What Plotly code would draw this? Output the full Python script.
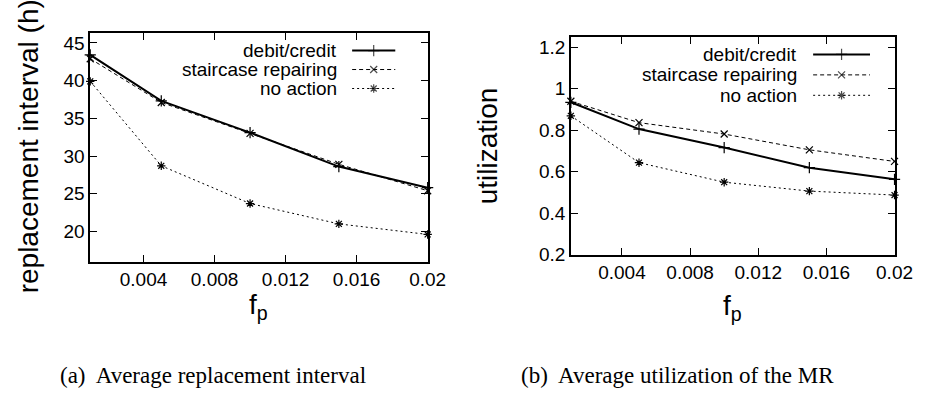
import plotly.graph_objects as go

# ---- data ----
fp = [0.001, 0.005, 0.01, 0.015, 0.02]
series_names = ["debit/credit", "staircase repairing", "no action"]

interval_debit = [43.4, 37.3, 33.1, 28.6, 25.8]
interval_stair = [42.9, 37.1, 33.0, 28.9, 25.4]
interval_none = [39.9, 28.7, 23.7, 21.0, 19.6]

util_debit = [0.935, 0.806, 0.717, 0.620, 0.564]
util_stair = [0.940, 0.837, 0.782, 0.706, 0.650]
util_none = [0.870, 0.644, 0.550, 0.507, 0.488]

x_tickvals = [0.004, 0.008, 0.012, 0.016, 0.02]
x_ticktext = ["0.004", "0.008", "0.012", "0.016", "0.02"]
y1_tickvals = [20, 25, 30, 35, 40, 45]
y2_tickvals = [0.2, 0.4, 0.6, 0.8, 1.0, 1.2]
y2_ticktext = ["0.2", "0.4", "0.6", "0.8", "1", "1.2"]

W, H = 940, 400
styles = [
    dict(width=2, dash="solid", symbol="cross-thin", size=8),
    dict(width=1, dash="4px,3px", symbol="x-thin", size=7),
    dict(width=1, dash="2px,3px", symbol="asterisk", size=7),
]
FONT = "Liberation Sans, Arial, sans-serif"
SERIF = "Liberation Serif, Times New Roman, serif"

fig = go.Figure()

for xa, ya, ys in [("x", "y", [interval_debit, interval_stair, interval_none]),
                   ("x2", "y2", [util_debit, util_stair, util_none])]:
    for name, yv, st in zip(series_names, ys, styles):
        fig.add_trace(go.Scatter(
            x=fp, y=yv, xaxis=xa, yaxis=ya, name=name, showlegend=False,
            mode="lines+markers", cliponaxis=False,
            line=dict(color="black", width=st["width"], dash=st["dash"]),
            marker=dict(symbol=st["symbol"], size=st["size"], color="black",
                        line=dict(color="black", width=1.2)),
        ))

# ---- gnuplot-style keys (text right, sample on the right) ----
keys = [
    dict(text_right=346, rows=[52, 71.5, 91], x0=359, x1=403),
    dict(text_right=815, rows=[56, 77, 98], x0=829, x1=887),
]
annotations = []
for k in keys:
    for name, st, yrow in zip(series_names, styles, k["rows"]):
        annotations.append(dict(
            text=name, x=k["text_right"] / W, y=1 - yrow / H, xref="paper", yref="paper",
            xanchor="right", yanchor="middle", showarrow=False,
            font=dict(family=FONT, size=19, color="black")))
        xm = (k["x0"] + k["x1"]) / 2
        fig.add_trace(go.Scatter(
            x=[k["x0"], xm, k["x1"]], y=[yrow] * 3, xaxis="x3", yaxis="y3",
            mode="lines+markers", showlegend=False, hoverinfo="skip",
            line=dict(color="black", width=st["width"], dash=st["dash"]),
            marker=dict(symbol=st["symbol"], size=[0, st["size"], 0], color="black",
                        line=dict(color="black", width=1.2)),
        ))

# axis titles & captions
extra = [
    dict(text="replacement interval (h)", x=29 / W, y=1 - 150 / H, textangle=-90,
         font=dict(family=FONT, size=28, color="black")),
    dict(text="utilization", x=497 / W, y=1 - 150 / H, textangle=-90,
         font=dict(family=FONT, size=28, color="black")),
    dict(text="f<sub>p</sub>", x=264 / W, y=1 - 315 / H,
         font=dict(family=FONT, size=28, color="black")),
    dict(text="f<sub>p</sub>", x=747 / W, y=1 - 316 / H,
         font=dict(family=FONT, size=28, color="black")),
    dict(text="(a)  Average replacement interval", x=217 / W, y=1 - 386 / H,
         font=dict(family=SERIF, size=23, color="black")),
    dict(text="(b)  Average utilization of the MR", x=691 / W, y=1 - 386 / H,
         font=dict(family=SERIF, size=23, color="black")),
]
for a in extra:
    a.update(xref="paper", yref="paper", xanchor="center", yanchor="middle", showarrow=False)
annotations += extra

axis_common = dict(showline=True, linecolor="black", linewidth=1.5, mirror="ticks",
                   ticks="inside", ticklen=7, tickcolor="black", tickwidth=1,
                   showgrid=False, zeroline=False,
                   tickfont=dict(family=FONT, size=19, color="black"))

fig.update_layout(
    width=W, height=H, margin=dict(l=0, r=0, t=0, b=0),
    paper_bgcolor="white", plot_bgcolor="rgba(0,0,0,0)",
    xaxis=dict(domain=[92 / W, 436 / W], anchor="y", range=[0.001, 0.02],
               tickvals=x_tickvals, ticktext=x_ticktext, **axis_common),
    yaxis=dict(domain=[1 - 269 / H, 1 - 34 / H], anchor="x", range=[16.0, 46.3],
               tickvals=y1_tickvals, **axis_common),
    xaxis2=dict(domain=[582 / W, 912 / W], anchor="y2", range=[0.001, 0.02],
                tickvals=x_tickvals, ticktext=x_ticktext, **axis_common),
    yaxis2=dict(domain=[1 - 262 / H, 1 - 38 / H], anchor="x2", range=[0.2, 1.25],
                tickvals=y2_tickvals, ticktext=y2_ticktext, **axis_common),
    xaxis3=dict(domain=[0, 1], anchor="y3", range=[0, W], visible=False, fixedrange=True),
    yaxis3=dict(domain=[0, 1], anchor="x3", range=[H, 0], visible=False, fixedrange=True),
    annotations=annotations,
    showlegend=False,
)

fig.write_html("out.html")
